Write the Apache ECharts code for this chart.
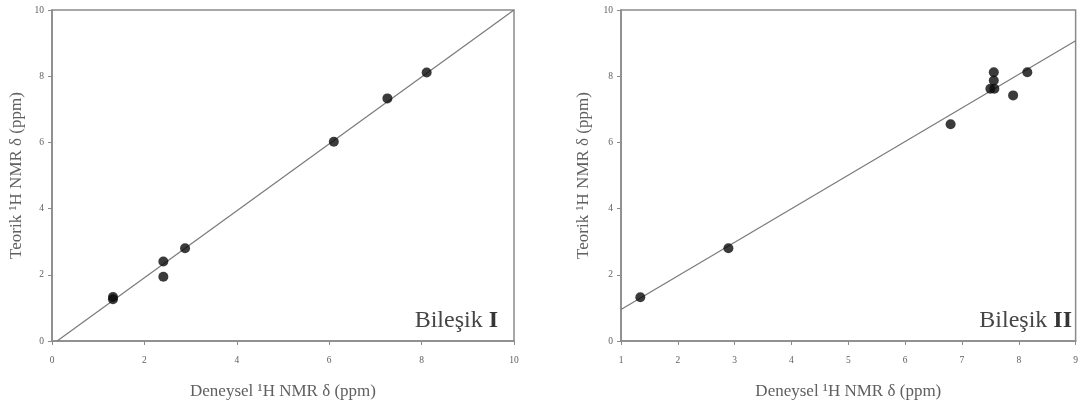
<!DOCTYPE html>
<html>
<head>
<meta charset="utf-8">
<script src="https://cdn.jsdelivr.net/npm/echarts@6/dist/echarts.min.js"></script>
<style>
html,body{margin:0;padding:0;background:#fff;}
#chart{width:1081px;height:407px;}
</style>
</head>
<body>
<div id="chart"></div>
<script>
// Bileşik I
const expI = [1.32, 1.32, 2.41, 2.41, 2.88, 6.10, 7.26, 8.11];
const teoI = [1.33, 1.26, 2.40, 1.94, 2.80, 6.02, 7.33, 8.11];
const fitXI = [0.11, 10];
const fitYI = [0, 10];
// Bileşik II
const expII = [1.34, 2.89, 6.80, 7.50, 7.57, 7.56, 7.56, 7.90, 8.15];
const teoII = [1.32, 2.80, 6.55, 7.62, 7.62, 7.87, 8.12, 7.42, 8.12];
const fitXII = [1, 9];
const fitYII = [0.95, 9.07];
// axes
const xTicksI = [0, 2, 4, 6, 8, 10];
const xTicksII = [1, 2, 3, 4, 5, 6, 7, 8, 9];
const yTicks = [0, 2, 4, 6, 8, 10];
const xTitle = 'Deneysel ¹H NMR δ (ppm)';
const yTitle = 'Teorik ¹H NMR δ (ppm)';
const labelI = 'I';
const labelII = 'II';

const serif = '"Liberation Serif", "DejaVu Serif", serif';
const axisCol = '#8a8a8a';
const textCol = '#606060';

function pairs(xs, ys){ return xs.map((x,i)=>[x, ys[i]]); }

function xAxis(idx, ticks){
  return {
    type:'value', gridIndex: idx,
    min: ticks[0], max: ticks[ticks.length-1], interval: ticks[1]-ticks[0],
    name: xTitle, nameLocation:'middle', nameGap: 42,
    nameTextStyle:{fontFamily: serif, fontSize: 17, color: textCol},
    axisLine:{lineStyle:{color: axisCol, width:1.5}},
    axisTick:{show:true, inside:false, length:4, lineStyle:{color: axisCol}},
    axisLabel:{fontFamily: serif, fontSize: 9.5, color: textCol, margin: 14},
    splitLine:{show:false}
  };
}
function yAxis(idx, gap){
  return {
    type:'value', gridIndex: idx,
    min: yTicks[0], max: yTicks[yTicks.length-1], interval: yTicks[1]-yTicks[0],
    name: yTitle, nameLocation:'middle', nameGap: gap, nameRotate: 90,
    nameTextStyle:{fontFamily: serif, fontSize: 17, color: textCol},
    axisLine:{lineStyle:{color: axisCol, width:1.5}},
    axisTick:{show:true, inside:false, length:4, lineStyle:{color: axisCol}},
    axisLabel:{fontFamily: serif, fontSize: 9.5, color: textCol, margin: 8},
    splitLine:{show:false}
  };
}

const richStyle = {
  n:{fontFamily: serif, fontSize: 24, fill:'#454545'},
  b:{fontFamily: serif, fontSize: 24, fontWeight:'bold', fill:'#353535'}
};

const chart = echarts.init(document.getElementById('chart'), null, {renderer:'canvas'});
chart.setOption({
  backgroundColor:'#fff',
  animation:false,
  grid:[
    {left:52, top:10, width:462, height:331, show:true, borderColor: axisCol, borderWidth:1.5, backgroundColor:'#fff'},
    {left:621, top:10, width:459, height:331, show:true, borderColor: axisCol, borderWidth:1.5, backgroundColor:'#fff'}
  ],
  xAxis:[xAxis(0, xTicksI), xAxis(1, xTicksII)],
  yAxis:[yAxis(0, 27), yAxis(1, 29)],
  series:[
    {type:'line', xAxisIndex:0, yAxisIndex:0, data: pairs(fitXI, fitYI), symbol:'none',
     lineStyle:{color:'#7a7a7a', width:1.2}, z:2},
    {type:'scatter', xAxisIndex:0, yAxisIndex:0, data: pairs(expI, teoI), symbolSize:10,
     itemStyle:{color:'#0a0a0a'}, z:3},
    {type:'line', xAxisIndex:1, yAxisIndex:1, data: pairs(fitXII, fitYII), symbol:'none',
     lineStyle:{color:'#7a7a7a', width:1.2}, z:2},
    {type:'scatter', xAxisIndex:1, yAxisIndex:1, data: pairs(expII, teoII), symbolSize:10,
     itemStyle:{color:'#0a0a0a'}, z:3}
  ],
  graphic:[
    {type:'text', right: 1081-498, top: 309, style:{
      text:'{n|Bileşik }{b|' + labelI + '}', rich: richStyle
    }},
    {type:'text', right: 9, top: 309, style:{
      text:'{n|Bileşik }{b|' + labelII + '}', rich: richStyle
    }}
  ]
});
</script>
</body>
</html>
